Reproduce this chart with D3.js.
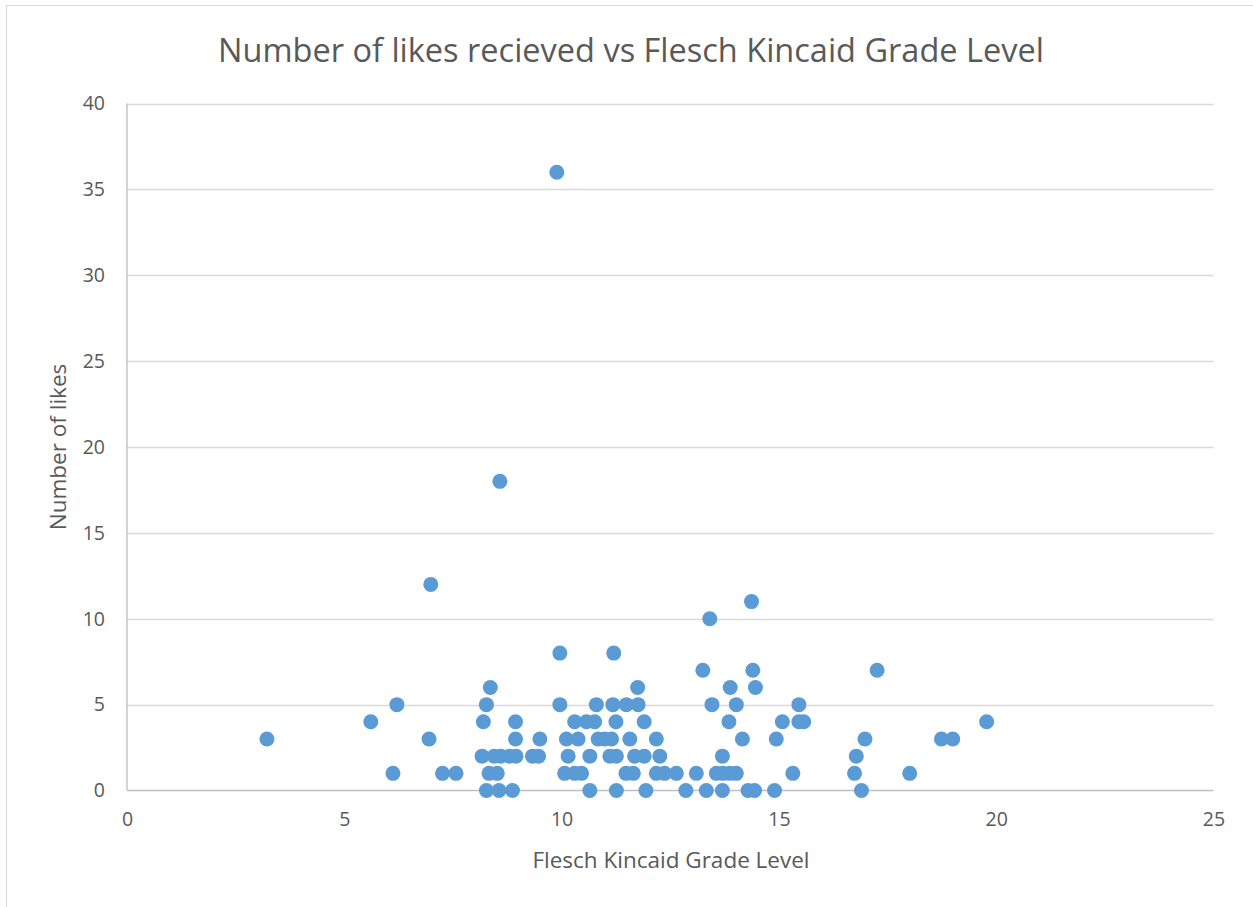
<!DOCTYPE html>
<html><head><meta charset="utf-8">
<script src="https://cdn.jsdelivr.net/npm/d3@7"></script>
<style>body{margin:0;background:#fff}svg text{font-family:"Open Sans","Noto Sans",sans-serif;fill:#595959}</style>
</head><body><svg id="c" width="1253" height="907"></svg>
<script>
const title = "Number of likes recieved vs Flesch Kincaid Grade Level";
const xTitle = "Flesch Kincaid Grade Level";
const yTitle = "Number of likes";
const xTicks = [0,5,10,15,20,25];
const yTicks = [0,5,10,15,20,25,30,35,40];
const grade = [3.22,5.61,6.21,6.12,6.99,6.95,7.26,7.57,8.58,9.89,9.96,11.20,
 8.36,8.27,8.20,8.94,8.94,9.50,
 8.17,8.45,8.60,8.80,8.95,9.33,9.47,
 8.33,8.52,8.27,8.56,8.87,
 9.96,10.80,11.18,11.49,11.76,11.75,
 10.30,10.57,10.76,11.25,11.90,
 10.11,10.38,10.84,10.99,11.15,11.57,12.18,
 10.15,10.65,11.11,11.26,11.68,11.90,12.26,
 10.07,10.30,10.46,11.48,11.65,12.18,12.37,12.64,
 10.65,11.26,11.94,
 14.37,13.41,13.25,14.40,17.26,13.88,14.46,13.46,14.02,15.46,
 13.85,15.08,15.46,15.57,14.16,14.94,16.98,13.70,16.78,
 13.10,13.56,13.71,13.87,14.02,15.32,16.74,
 12.86,13.33,13.70,14.29,14.44,14.90,16.90,
 18.01,18.74,19.00,19.78];
const likes = [3,4,5,1,12,3,1,1,18,36,8,8,
 6,5,4,4,3,3,
 2,2,2,2,2,2,2,
 1,1,0,0,0,
 5,5,5,5,5,6,
 4,4,4,4,4,
 3,3,3,3,3,3,3,
 2,2,2,2,2,2,2,
 1,1,1,1,1,1,1,1,
 0,0,0,
 11,10,7,7,7,6,6,5,5,5,
 4,4,4,4,3,3,3,2,2,
 1,1,1,1,1,1,1,
 0,0,0,0,0,0,0,
 1,3,3,4];

const svg = d3.select("#c");
svg.append("rect").attr("x",6.5).attr("y",5.5).attr("width",1260).attr("height",910)
  .attr("fill","#fff").attr("stroke","#d9d9d9");
const L=127,R=1213.5,T=103.5,B=790.5;
const x = d3.scaleLinear().domain([0,25]).range([L,R]);
const y = d3.scaleLinear().domain([0,40]).range([B,T]);
const g = svg.append("g");
g.selectAll(".grid").data(yTicks.filter(d=>d>0)).join("line")
 .attr("x1",L).attr("x2",R).attr("y1",d=>Math.round(y(d))+0.5).attr("y2",d=>Math.round(y(d))+0.5)
 .attr("stroke","#d9d9d9").attr("stroke-width",1.3);
g.append("line").attr("x1",L).attr("x2",R).attr("y1",B).attr("y2",B).attr("stroke","#bfbfbf").attr("stroke-width",1.3);
g.append("line").attr("x1",L).attr("x2",L).attr("y1",T).attr("y2",B).attr("stroke","#bfbfbf").attr("stroke-width",1.3);
const xa = svg.append("g").attr("transform",`translate(0,${B})`)
 .call(d3.axisBottom(x).tickValues(xTicks).tickSize(0).tickPadding(22));
const ya = svg.append("g").attr("transform",`translate(${L},0)`)
 .call(d3.axisLeft(y).tickValues(yTicks).tickSize(0).tickPadding(22));
[xa,ya].forEach(a=>{a.select(".domain").remove();a.selectAll("text").style("font-size","19.5px").style("font-family",'"Open Sans",sans-serif').attr("fill","#595959");});
svg.append("g").selectAll("circle").data(grade.map((d,i)=>[d,likes[i]])).join("circle")
 .attr("cx",d=>x(d[0])).attr("cy",d=>y(d[1])).attr("r",7.5).attr("fill","#5b9bd5");
svg.append("text").attr("x",631).attr("y",62).attr("text-anchor","middle").style("font-size","32.5px").text(title);
svg.append("text").attr("x",671).attr("y",868).attr("text-anchor","middle").style("font-size","22.5px").text(xTitle);
svg.append("text").attr("transform","translate(66,447) rotate(-90)").attr("text-anchor","middle").style("font-size","22.5px").text(yTitle);
</script></body></html>
